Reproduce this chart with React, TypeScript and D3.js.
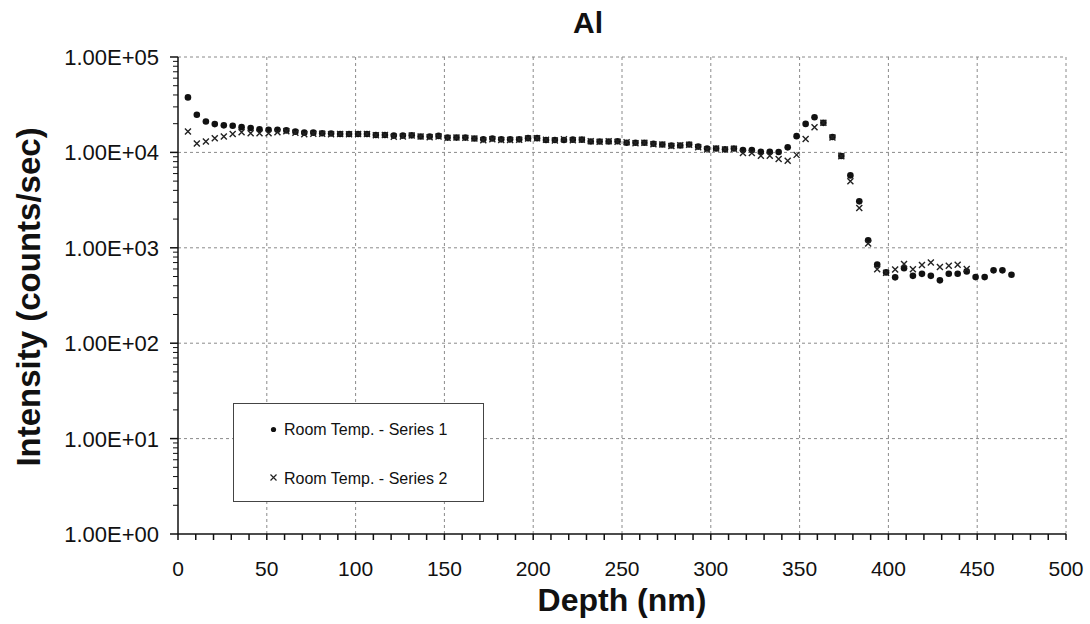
import React from 'react';
import * as d3 from 'd3';

// depth (nm) of each sputter step
const depth = [
  5.6, 10.6, 15.7, 20.7, 25.8, 30.8, 35.8, 40.9, 45.9, 51.0,
  56.0, 61.0, 66.1, 71.1, 76.2, 81.2, 86.2, 91.3, 96.3, 101.4,
  106.4, 111.4, 116.5, 121.5, 126.6, 131.6, 136.6, 141.7, 146.7, 151.8,
  156.8, 161.8, 166.9, 171.9, 177.0, 182.0, 187.0, 192.1, 197.1, 202.2,
  207.2, 212.2, 217.3, 222.3, 227.4, 232.4, 237.4, 242.5, 247.5, 252.6,
  257.6, 262.6, 267.7, 272.7, 277.8, 282.8, 287.8, 292.9, 297.9, 303.0,
  308.0, 313.0, 318.1, 323.1, 328.2, 333.2, 338.2, 343.3, 348.3, 353.4,
  358.4, 363.4, 368.5, 373.5, 378.6, 383.6, 388.6, 393.7, 398.7, 403.8,
  408.8, 413.8, 418.9, 423.9, 429.0, 434.0, 439.0, 444.1, 449.1, 454.2,
  459.2, 464.2, 469.3,
];

// Room Temp. - Series 1 (counts/sec)
const series1 = [
  37700, 24800, 21100, 19800, 19200, 19000, 18400, 18000, 17500, 17300,
  17300, 17000, 16500, 16100, 16100, 15900, 15800, 15600, 15600, 15600,
  15600, 15200, 15200, 15000, 15000, 15100, 14700, 14700, 14900, 14300,
  14300, 14300, 14000, 13700, 14000, 13700, 13700, 13700, 14100, 14100,
  13500, 13500, 13500, 13600, 13600, 13000, 13000, 13000, 13100, 12600,
  12600, 12600, 12300, 12100, 11800, 11800, 12100, 11500, 11000, 11000,
  10800, 11000, 10600, 10600, 10150, 10150, 10100, 11300, 14800, 19900,
  23400, 20400, 14500, 9170, 5740, 3070, 1200, 668, 552, 490,
  610, 508, 533, 508, 456, 535, 535, 566, 493, 493,
  580, 580, 522,
];

// Room Temp. - Series 2 (counts/sec), stops earlier
const series2 = [
  16600, 12400, 13000, 14100, 14700, 15600, 16300, 15900, 15900, 15900,
  16300, 16700, 16100, 15500, 15700, 15700, 15500, 15600, 15500, 15600,
  15600, 15100, 15200, 14600, 14700, 15000, 14700, 14400, 14700, 14200,
  14300, 14200, 14000, 13400, 13700, 13500, 13500, 13600, 14000, 14100,
  13600, 13300, 13700, 13400, 13600, 13100, 12900, 13100, 12900, 12800,
  12500, 12600, 12200, 12100, 11700, 11900, 12000, 11300, 10700, 11000,
  10700, 10900, 9830, 9830, 9220, 9220, 8530, 8190, 9420, 13800,
  18400, 20400, 14300, 9100, 4970, 2620, 1110, 597, 546, 594,
  675, 596, 662, 702, 628, 649, 664, 598,
];

const xTicks = [0, 50, 100, 150, 200, 250, 300, 350, 400, 450, 500];
const yTicks = [1, 10, 100, 1000, 10000, 100000];
const yLabels = ['1.00E+00', '1.00E+01', '1.00E+02', '1.00E+03', '1.00E+04', '1.00E+05'];

const font = '"Liberation Sans", Arial, sans-serif';

export default function App() {
  const width = 1090, height = 624;
  const left = 178, right = 1066, top = 57, bottom = 534;

  const x = d3.scaleLinear().domain([0, 500]).range([left, right]);
  const y = d3.scaleLog().domain([1, 1e5]).range([bottom, top]);

  // log minor ticks 2..9 in every decade
  let minorY = [];
  d3.range(0, 5).forEach((d) => {
    d3.range(2, 10).forEach((k) => minorY.push(k * Math.pow(10, d)));
  });
  let minorX = d3.range(0, 501, 10);

  let grid = [];
  xTicks.slice(1).forEach((t, i) => {
    grid.push(<line key={'gx' + i} x1={x(t)} x2={x(t)} y1={top} y2={bottom} />);
  });
  yTicks.slice(1).forEach((t, i) => {
    grid.push(<line key={'gy' + i} x1={left} x2={right} y1={y(t)} y2={y(t)} />);
  });

  const dots = series1.map((v, i) => (
    <circle key={'a' + i} cx={x(depth[i])} cy={y(v)} r={3.3} fill="#111" />
  ));
  const s = 3;
  const crosses = series2.map((v, i) => {
    const cx = x(depth[i]), cy = y(v);
    return (
      <path key={'b' + i} d={`M${cx - s},${cy - s}L${cx + s},${cy + s}M${cx - s},${cy + s}L${cx + s},${cy - s}`} />
    );
  });

  return (
    <svg width={width} height={height} style={{ position: 'absolute', left: 0, top: 0, background: '#fff' }}>
      <rect width={width} height={height} fill="#fff" />
      <g stroke="#8a8a8a" strokeWidth={1} strokeDasharray="3,3">{grid}</g>

      {/* axes */}
      <g stroke="#111" strokeWidth={1.5}>
        <line x1={left} x2={left} y1={top} y2={bottom} />
        <line x1={left} x2={right} y1={bottom} y2={bottom} />
        {yTicks.map((t) => <line key={'my' + t} x1={left - 8} x2={left} y1={y(t)} y2={y(t)} />)}
        {minorY.map((t) => <line key={'ny' + t} x1={left - 5} x2={left} y1={y(t)} y2={y(t)} strokeWidth={1} />)}
        {minorX.map((t) => <line key={'nx' + t} x1={x(t)} x2={x(t)} y1={bottom} y2={bottom + 6} />)}
      </g>

      <g fontFamily={font} fontSize={22} fill="#111" textAnchor="end">
        {yTicks.map((t, i) => (
          <text key={'ly' + t} x={left - 19} y={y(t) + 8}>{yLabels[i]}</text>
        ))}
      </g>
      <g fontFamily={font} fontSize={21} fill="#111" textAnchor="middle">
        {xTicks.map((t) => (
          <text key={'lx' + t} x={x(t)} y={576}>{t}</text>
        ))}
      </g>

      <g>{dots}</g>
      <g stroke="#222" strokeWidth={1.4} fill="none">{crosses}</g>

      {/* legend */}
      <rect x={233.5} y={403.5} width={250} height={98} fill="#fff" stroke="#444" strokeWidth={1} />
      <circle cx={273.5} cy={429.5} r={2.6} fill="#111" />
      <path d="M270.5,474.5L276.5,480.5M270.5,480.5L276.5,474.5" stroke="#222" strokeWidth={1.2} />
      <g fontFamily={font} fontSize={16} fill="#111">
        <text x={284} y={435}>Room Temp. - Series 1</text>
        <text x={284} y={483.5}>Room Temp. - Series 2</text>
      </g>

      <text x={588} y={33} fontFamily={font} fontSize={30} fontWeight="bold" textAnchor="middle" fill="#111">Al</text>
      <text x={622} y={611} fontFamily={font} fontSize={32} fontWeight="bold" textAnchor="middle" fill="#111">Depth (nm)</text>
      <text transform="translate(40,297) rotate(-90)" fontFamily={font} fontSize={33} fontWeight="bold" textAnchor="middle" fill="#111">Intensity (counts/sec)</text>
    </svg>
  );
}
